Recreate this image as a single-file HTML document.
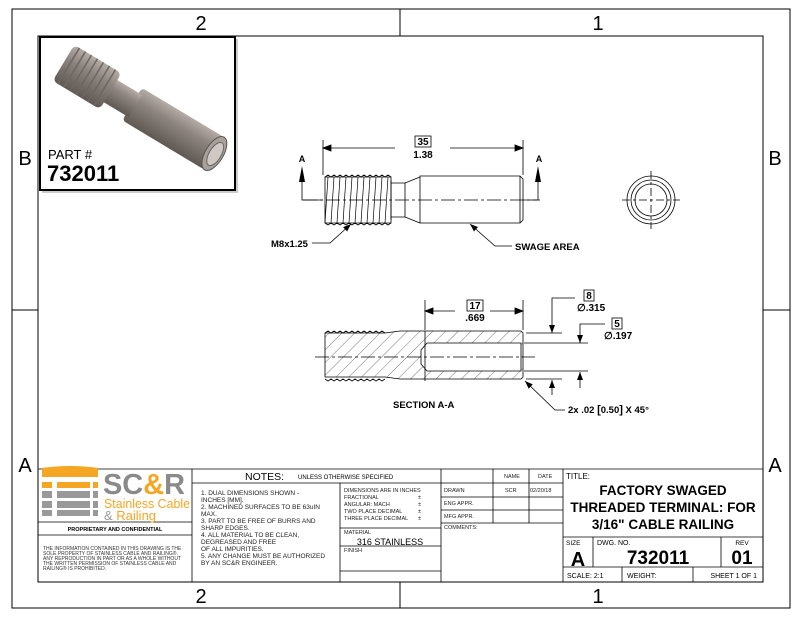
<!DOCTYPE html>
<html><head><meta charset="utf-8"><style>
html,body{margin:0;padding:0;background:#fff;}
svg{display:block;font-family:"Liberation Sans",Arial,sans-serif;}
</style></head><body>
<svg width="800" height="618" viewBox="0 0 800 618" xmlns="http://www.w3.org/2000/svg">
<defs>
<pattern id="hatch" patternUnits="userSpaceOnUse" width="9" height="9" patternTransform="rotate(45)">
<line x1="0" y1="0" x2="0" y2="9" stroke="#555" stroke-width="0.8"/>
</pattern>
<linearGradient id="cyl" x1="0" y1="0" x2="0" y2="1">
<stop offset="0" stop-color="#b5aca6"/><stop offset="0.35" stop-color="#8e8580"/><stop offset="1" stop-color="#5f5853"/>
</linearGradient>
<marker id="ar" markerWidth="8" markerHeight="6" refX="8" refY="3" orient="auto" markerUnits="userSpaceOnUse"><path d="M0,0 L8,3 L0,6 z" fill="#000"/></marker>
</defs>
<rect width="800" height="618" fill="#fff"/>
<!-- borders -->
<rect x="12" y="9" width="778" height="599" fill="none" stroke="#000" stroke-width="1"/>
<rect x="38" y="36" width="725" height="546" fill="none" stroke="#000" stroke-width="1"/>
<line x1="400" y1="9" x2="400" y2="36" stroke="#000"/>
<line x1="400" y1="582" x2="400" y2="608" stroke="#000"/>
<line x1="12" y1="310" x2="38" y2="310" stroke="#000"/>
<line x1="763" y1="310" x2="790" y2="310" stroke="#000"/>
<g font-size="20" text-anchor="middle" fill="#000">
<text x="201" y="30">2</text><text x="598" y="30">1</text>
<text x="201" y="603">2</text><text x="598" y="603">1</text>
<text x="25" y="165">B</text><text x="775" y="165">B</text>
<text x="25" y="472">A</text><text x="775" y="472">A</text>
</g>
<!-- picture box -->
<rect x="42" y="39" width="196" height="154" fill="#ccc"/>
<rect x="40" y="37" width="195" height="153" fill="#fff" stroke="#000" stroke-width="2"/>
<g transform="translate(64,62) rotate(31)">
<rect x="80" y="-18" width="96" height="38" rx="4" fill="url(#cyl)"/>
<rect x="50" y="-12" width="34" height="26" fill="url(#cyl)"/>
<rect x="0" y="-20" width="55" height="42" rx="5" fill="url(#cyl)"/>
<g stroke="#6d6661" stroke-width="1.5">
<line x1="6" y1="-20" x2="6" y2="22"/><line x1="13" y1="-20" x2="13" y2="22"/><line x1="20" y1="-20" x2="20" y2="22"/><line x1="27" y1="-20" x2="27" y2="22"/><line x1="34" y1="-20" x2="34" y2="22"/><line x1="41" y1="-20" x2="41" y2="22"/><line x1="48" y1="-20" x2="48" y2="22"/>
</g>
<ellipse cx="176" cy="1" rx="9" ry="19" fill="#a9a09a" stroke="#555"/>
<ellipse cx="177" cy="1" rx="6" ry="13" fill="#cfc8c3" stroke="#666"/>
</g>
<text x="48" y="159" font-size="13">PART #</text>
<text x="47" y="181" font-size="22" font-weight="bold">732011</text>

<!-- top view -->
<g stroke="#000" fill="none" stroke-width="0.8">
<line x1="323" y1="140" x2="323" y2="175"/><line x1="523" y1="140" x2="523" y2="175"/>
<line x1="330" y1="148" x2="395" y2="148"/><line x1="450" y1="148" x2="516" y2="148"/>
<path d="M323,148 l8,-3 v6z M523,148 l-8,-3 v6z" fill="#000"/>
<path d="M325,177 h66 v46 h-66 z" fill="#fff"/>
<path d="M325,177 l3,-2 l3,2 l3,-2 l3,2 l3,-2 l3,2 l3,-2 l3,2 l3,-2 l3,2 l3,-2 l3,2 l3,-2 l3,2 l3,-2 l3,2 l3,-2 l3,2 l3,-2 l3,2 l3,-2 l3,2" />
<path d="M325,223 l3,2 l3,-2 l3,2 l3,-2 l3,2 l3,-2 l3,2 l3,-2 l3,2 l3,-2 l3,2 l3,-2 l3,2 l3,-2 l3,2 l3,-2 l3,2 l3,-2 l3,2 l3,-2 l3,2 l3,-2" />
<g stroke-width="0.7">
<line x1="328" y1="177" x2="325" y2="223"/><line x1="334" y1="177" x2="331" y2="223"/><line x1="340" y1="177" x2="337" y2="223"/><line x1="346" y1="177" x2="343" y2="223"/><line x1="352" y1="177" x2="349" y2="223"/><line x1="358" y1="177" x2="355" y2="223"/><line x1="364" y1="177" x2="361" y2="223"/><line x1="370" y1="177" x2="367" y2="223"/><line x1="376" y1="177" x2="373" y2="223"/><line x1="382" y1="177" x2="379" y2="223"/><line x1="388" y1="177" x2="385" y2="223"/>
</g>
<path d="M391,180 v40 M391,183 h14 l15,-6 M391,217 h14 l15,6 M405,183 v34"/>
<path d="M420,176 h100 l3,3 v41 l-3,3 h-100 z M420,176 v47 M520,176 v47"/>
<line x1="303" y1="200" x2="540" y2="200" stroke-dasharray="14,3,3,3"/>
<polyline points="302,182 302,200 323,200"/>
<polyline points="538,182 538,200 523,200"/>
</g>
<path d="M302,166 l-3,16 h6z M538,166 l-3,16 h6z" fill="#000"/>
<text x="302" y="162" font-size="9" font-weight="bold" text-anchor="middle">A</text>
<text x="539" y="162" font-size="9" font-weight="bold" text-anchor="middle">A</text>
<rect x="415" y="136" width="16" height="11" fill="none" stroke="#000" stroke-width="0.8"/>
<text x="423" y="145" font-size="10" font-weight="bold" text-anchor="middle">35</text>
<text x="423" y="158" font-size="10" font-weight="bold" text-anchor="middle">1.38</text>
<g stroke="#000" fill="none" stroke-width="0.8">
<polyline points="312,243 330,243 351,224" marker-end="url(#ar)"/>
<polyline points="512,246 495,246 470,224" marker-end="url(#ar)"/>
</g>
<text x="271" y="247" font-size="9.5" font-weight="bold">M8x1.25</text>
<text x="515" y="250" font-size="9.5" font-weight="bold">SWAGE AREA</text>
<!-- end view -->
<g stroke="#000" fill="none" stroke-width="0.8">
<circle cx="651" cy="200" r="24"/><circle cx="651" cy="200" r="20"/><circle cx="651" cy="200" r="16"/>
<line x1="622" y1="200" x2="680" y2="200" stroke-dasharray="8,3,3,3"/>
<line x1="651" y1="171" x2="651" y2="229" stroke-dasharray="8,3,3,3"/>
</g>
<!-- section -->
<path d="M325,333 h60 l15,-2 h25 h96 l2,2 v44 l-2,2 h-96 h-25 l-15,-2 h-60 z M427,343 h94 v28 h-94 l-6,-7 v-14 z" fill="url(#hatch)" fill-rule="evenodd" stroke="#000" stroke-width="0.8"/>
<g stroke="#000" fill="none" stroke-width="0.8">
<path d="M325,333 l3,-2 l3,2 l3,-2 l3,2 l3,-2 l3,2 l3,-2 l3,2 l3,-2 l3,2 l3,-2 l3,2 l3,-2 l3,2 l3,-2 l3,2 l3,-2 l3,2 l3,-2 l3,2"/>
<path d="M325,379 l3,2 l3,-2 l3,2 l3,-2 l3,2 l3,-2 l3,2 l3,-2 l3,2 l3,-2 l3,2 l3,-2 l3,2 l3,-2 l3,2 l3,-2 l3,2 l3,-2 l3,2 l3,-2"/>
<line x1="425" y1="331" x2="425" y2="381"/>
<line x1="315" y1="357" x2="535" y2="357" stroke-dasharray="14,3,3,3"/>
<line x1="425" y1="300" x2="425" y2="330"/><line x1="523" y1="300" x2="523" y2="330"/>
<line x1="432" y1="311" x2="455" y2="311"/><line x1="490" y1="311" x2="516" y2="311"/>
<path d="M425,311 l8,-3 v6z M523,311 l-8,-3 v6z" fill="#000"/>
<line x1="526" y1="333" x2="562" y2="333"/><line x1="526" y1="379" x2="562" y2="379"/>
<line x1="524" y1="343" x2="588" y2="343"/><line x1="524" y1="371" x2="588" y2="371"/>
<polyline points="575,298 552,298 552,333" marker-end="url(#ar)"/>
<line x1="552" y1="395" x2="552" y2="380" marker-end="url(#ar)"/>
<polyline points="605,324 580,324 580,343" marker-end="url(#ar)"/>
<line x1="580" y1="388" x2="580" y2="372" marker-end="url(#ar)"/>
<polyline points="565,410 555,410 525,381" marker-end="url(#ar)"/>
</g>
<rect x="467" y="300" width="16" height="11" fill="none" stroke="#000" stroke-width="0.8"/>
<text x="475" y="309" font-size="10" font-weight="bold" text-anchor="middle">17</text>
<text x="475" y="321" font-size="10" font-weight="bold" text-anchor="middle">.669</text>
<rect x="584" y="290" width="10" height="11" fill="none" stroke="#000" stroke-width="0.8"/>
<text x="589" y="299" font-size="10" font-weight="bold" text-anchor="middle">8</text>
<text x="577" y="311" font-size="10" font-weight="bold">∅.315</text>
<rect x="612" y="318" width="10" height="11" fill="none" stroke="#000" stroke-width="0.8"/>
<text x="617" y="327" font-size="10" font-weight="bold" text-anchor="middle">5</text>
<text x="604" y="339" font-size="10" font-weight="bold">∅.197</text>
<text x="393" y="408" font-size="9.5" font-weight="bold">SECTION A-A</text>
<text x="568" y="413" font-size="9.5" font-weight="bold">2x .02 <tspan font-size="11">[</tspan>0.50<tspan font-size="11">]</tspan> X 45°</text>

<!-- title block -->
<g stroke="#000" fill="none" stroke-width="0.8">
<line x1="38" y1="469" x2="763" y2="469"/>
<line x1="192" y1="469" x2="192" y2="582"/>
<line x1="38" y1="522" x2="192" y2="522"/>
<line x1="38" y1="535" x2="192" y2="535"/>
<line x1="192" y1="483" x2="441" y2="483"/>
<line x1="340" y1="483" x2="340" y2="582"/>
<line x1="340" y1="528" x2="441" y2="528"/>
<line x1="340" y1="546" x2="441" y2="546"/>
<line x1="340" y1="571" x2="441" y2="571"/>
<line x1="441" y1="469" x2="441" y2="582"/>
<line x1="493" y1="469" x2="493" y2="523"/>
<line x1="529" y1="469" x2="529" y2="523"/>
<line x1="563" y1="469" x2="563" y2="582"/>
<line x1="441" y1="483" x2="563" y2="483"/>
<line x1="441" y1="497" x2="563" y2="497"/>
<line x1="441" y1="510" x2="563" y2="510"/>
<line x1="441" y1="523" x2="563" y2="523"/>
<line x1="563" y1="537" x2="763" y2="537"/>
<line x1="563" y1="567" x2="763" y2="567"/>
<line x1="593" y1="537" x2="593" y2="567"/>
<line x1="721" y1="537" x2="721" y2="567"/>
<line x1="622" y1="567" x2="622" y2="582"/>
<line x1="693" y1="567" x2="693" y2="582"/>
</g>
<!-- logo -->
<path d="M42,468 q28,-4 56,0 v9 h-56z" fill="#f5a623"/>
<rect x="42" y="482" width="10" height="6" fill="#f5a623"/><rect x="57" y="482" width="33" height="6" fill="#f5a623"/><rect x="93" y="482" width="5" height="6" fill="#f5a623"/>
<rect x="42" y="491" width="10" height="7" fill="#999"/><rect x="57" y="491" width="33" height="7" fill="#999"/><rect x="93" y="491" width="5" height="7" fill="#999"/>
<rect x="42" y="501" width="10" height="7" fill="#999"/><rect x="57" y="501" width="33" height="7" fill="#999"/><rect x="93" y="501" width="5" height="7" fill="#999"/>
<rect x="42" y="510" width="10" height="6" fill="#999"/><rect x="57" y="510" width="33" height="6" fill="#999"/><rect x="93" y="510" width="5" height="6" fill="#999"/>
<text x="103" y="494" font-size="29" font-weight="bold" fill="#8a8a8a" textLength="82" lengthAdjust="spacingAndGlyphs">SC<tspan fill="#f5a623">&amp;</tspan>R</text>
<text x="104" y="508" font-size="13" fill="#f5a623" textLength="86" lengthAdjust="spacingAndGlyphs">Stainless Cable</text>
<text x="104" y="520" font-size="13" fill="#f5a623"><tspan fill="#999">&amp;</tspan> Railing</text>
<text x="115" y="531" font-size="5.5" font-weight="bold" text-anchor="middle">PROPRIETARY AND CONFIDENTIAL</text>
<g font-size="5" fill="#333">
<text x="43" y="550">THE INFORMATION CONTAINED IN THIS DRAWING IS THE</text>
<text x="43" y="555">SOLE PROPERTY OF STAINLESS CABLE AND RAILING®.</text>
<text x="43" y="560">ANY REPRODUCTION IN PART OR AS A WHOLE WITHOUT</text>
<text x="43" y="565">THE WRITTEN PERMISSION OF STAINLESS CABLE AND</text>
<text x="43" y="570">RAILING® IS PROHIBITED.</text>
</g>
<text x="245" y="480" font-size="10.5">NOTES:</text>
<text x="298" y="479" font-size="6">UNLESS OTHERWISE SPECIFIED</text>
<g font-size="6.5" fill="#222">
<text x="201" y="495">1. DUAL DIMENSIONS SHOWN -</text>
<text x="201" y="502">INCHES [MM].</text>
<text x="201" y="509">2. MACHINED SURFACES TO BE 63uIN</text>
<text x="201" y="516">MAX.</text>
<text x="201" y="523">3. PART TO BE FREE OF BURRS AND</text>
<text x="201" y="530">SHARP EDGES.</text>
<text x="201" y="537">4. ALL MATERIAL TO BE CLEAN,</text>
<text x="201" y="544">DEGREASED AND FREE</text>
<text x="201" y="551">OF ALL IMPURITIES.</text>
<text x="201" y="558">5. ANY CHANGE MUST BE AUTHORIZED</text>
<text x="201" y="565">BY AN SC&amp;R ENGINEER.</text>
</g>
<g font-size="5.5" fill="#222">
<text x="344" y="492">DIMENSIONS ARE IN INCHES</text>
<text x="344" y="499">FRACTIONAL</text><text x="418" y="499">±</text>
<text x="344" y="506">ANGULAR: MACH</text><text x="418" y="506">±</text>
<text x="344" y="513">TWO PLACE DECIMAL</text><text x="418" y="513">±</text>
<text x="344" y="520">THREE PLACE DECIMAL</text><text x="418" y="520">±</text>
<text x="344" y="534">MATERIAL</text>
<text x="344" y="552">FINISH</text>
<text x="504" y="478">NAME</text><text x="538" y="478">DATE</text>
<text x="444" y="492">DRAWN</text><text x="505" y="492">SCR</text><text x="530" y="492">02/20/18</text>
<text x="444" y="505">ENG APPR.</text>
<text x="444" y="518">MFG APPR.</text>
<text x="444" y="529">COMMENTS:</text>
</g>
<text x="390" y="545" font-size="9" text-anchor="middle">316 STAINLESS</text>
<text x="566" y="479" font-size="8">TITLE:</text>
<g font-size="13.5" font-weight="bold" text-anchor="middle">
<text x="663" y="495">FACTORY SWAGED</text>
<text x="663" y="512">THREADED TERMINAL: FOR</text>
<text x="663" y="529">3/16" CABLE RAILING</text>
</g>
<text x="566" y="545" font-size="6.5">SIZE</text>
<text x="578" y="566" font-size="20" font-weight="bold" text-anchor="middle">A</text>
<text x="597" y="545" font-size="7">DWG.  NO.</text>
<text x="658" y="564" font-size="19" font-weight="bold" text-anchor="middle">732011</text>
<text x="742" y="545" font-size="6.5" text-anchor="middle">REV</text>
<text x="742" y="564" font-size="19" font-weight="bold" text-anchor="middle">01</text>
<text x="567" y="578" font-size="7">SCALE: 2:1</text>
<text x="627" y="578" font-size="7">WEIGHT:</text>
<text x="757" y="578" font-size="7" text-anchor="end">SHEET 1 OF 1</text>
</svg>
</body></html>
